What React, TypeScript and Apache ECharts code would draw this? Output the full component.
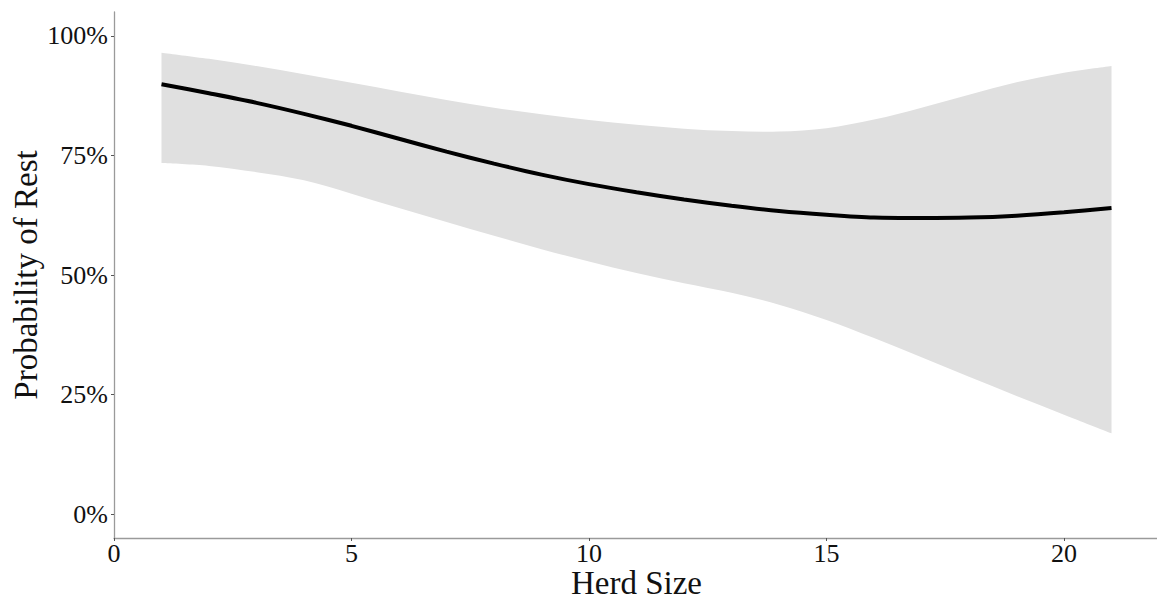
import React, { useEffect, useRef } from "react";
import * as echarts from "echarts";

const herdSize = [1, 2, 3, 4, 5, 6, 7, 8, 9, 10, 11, 12, 13, 14, 15, 16, 17, 18, 19, 20, 21];
const fitPct = [89.9, 88.0, 86.0, 83.7, 81.2, 78.5, 75.8, 73.3, 71.0, 69.0, 67.3, 65.8, 64.5, 63.4, 62.6, 62.0, 61.9, 62.0, 62.4, 63.1, 64.0];
const upperPct = [96.5, 95.2, 93.7, 92.0, 90.2, 88.4, 86.6, 85.0, 83.6, 82.4, 81.4, 80.6, 80.1, 80.0, 80.7, 82.5, 85.0, 87.7, 90.3, 92.3, 93.7];
const lowerPct = [73.4, 72.8, 71.5, 69.8, 67.0, 64.0, 61.1, 58.2, 55.4, 52.8, 50.4, 48.3, 46.3, 43.8, 40.6, 36.8, 32.8, 28.7, 24.7, 20.8, 16.9];
const xTicks = [0, 5, 10, 15, 20];
const yTicks = [0, 25, 50, 75, 100];

const FONT = "'Liberation Serif', 'DejaVu Serif', serif";

// Catmull-Rom spline segments through screen points, as SVG path commands
function splineCmds(pts: number[][]): string {
  let d = "";
  for (let i = 0; i < pts.length - 1; i++) {
    const p0 = pts[Math.max(0, i - 1)];
    const p1 = pts[i];
    const p2 = pts[i + 1];
    const p3 = pts[Math.min(pts.length - 1, i + 2)];
    const c1x = p1[0] + (p2[0] - p0[0]) / 6;
    const c1y = p1[1] + (p2[1] - p0[1]) / 6;
    const c2x = p2[0] - (p3[0] - p1[0]) / 6;
    const c2y = p2[1] - (p3[1] - p1[1]) / 6;
    d += ` C ${c1x} ${c1y} ${c2x} ${c2y} ${p2[0]} ${p2[1]}`;
  }
  return d;
}

export default function App() {
  const ref = useRef<HTMLDivElement>(null);
  useEffect(() => {
    if (!ref.current) return;
    const chart = echarts.init(ref.current, undefined, { renderer: "svg" });
    const bandData = herdSize.map((x, i) => [x, lowerPct[i], upperPct[i]]);
    const option: any = {
      animation: false,
      backgroundColor: "#ffffff",
      grid: { left: 114, right: -2, top: 12, bottom: 61, containLabel: false, outerBoundsMode: "none" },
      xAxis: {
        type: "value",
        min: 0,
        max: 22,
        name: "Herd Size",
        nameLocation: "middle",
        nameGap: 32,
        nameMoveOverlap: false,
        nameTextStyle: { fontFamily: FONT, fontSize: 33, lineHeight: 26, color: "#111" },
        splitLine: { show: false },
        axisLine: { show: true, onZero: false, lineStyle: { color: "#9a9a9a", width: 1.3 } },
        axisTick: { show: true, length: 3, customValues: xTicks, lineStyle: { color: "#555" } },
        axisLabel: {
          customValues: xTicks,
          margin: 6,
          lineHeight: 18,
          fontFamily: FONT,
          fontSize: 26,
          color: "#111",
        },
      },
      yAxis: {
        type: "value",
        min: -5,
        max: 105,
        name: "Probability of Rest",
        nameLocation: "middle",
        nameGap: 72,
        nameMoveOverlap: false,
        nameTextStyle: { fontFamily: FONT, fontSize: 33, color: "#111" },
        splitLine: { show: false },
        axisLine: { show: true, onZero: false, lineStyle: { color: "#9a9a9a", width: 1.3 } },
        axisTick: { show: true, length: 3, customValues: yTicks, lineStyle: { color: "#555" } },
        axisLabel: {
          customValues: yTicks,
          margin: 6,
          fontFamily: FONT,
          fontSize: 26,
          color: "#111",
          formatter: (v: number) => `${v}%`,
        },
      },
      series: [
        {
          type: "custom",
          name: "band",
          data: bandData,
          encode: { x: 0, y: [1, 2] },
          silent: true,
          z: 1,
          renderItem: (params: any, api: any) => {
            if (params.dataIndex !== 0) return null;
            const up = bandData.map((d) => api.coord([d[0], d[2]]));
            const lo = bandData.map((d) => api.coord([d[0], d[1]])).reverse();
            let path = `M ${up[0][0]} ${up[0][1]}` + splineCmds(up);
            path += ` L ${lo[0][0]} ${lo[0][1]}` + splineCmds(lo) + " Z";
            return {
              type: "path",
              shape: { pathData: path },
              style: { fill: "#e0e0e0", stroke: "none" },
            };
          },
        },
        {
          type: "line",
          name: "fit",
          data: herdSize.map((x, i) => [x, fitPct[i]]),
          symbol: "none",
          smooth: 0.3,
          lineStyle: { color: "#000", width: 4 },
          z: 3,
        },
      ],
    };
    chart.setOption(option);
    return () => chart.dispose();
  }, []);
  return (
    <div
      ref={ref}
      style={{ position: "fixed", left: 0, top: 0, width: 1157, height: 599 }}
    />
  );
}
